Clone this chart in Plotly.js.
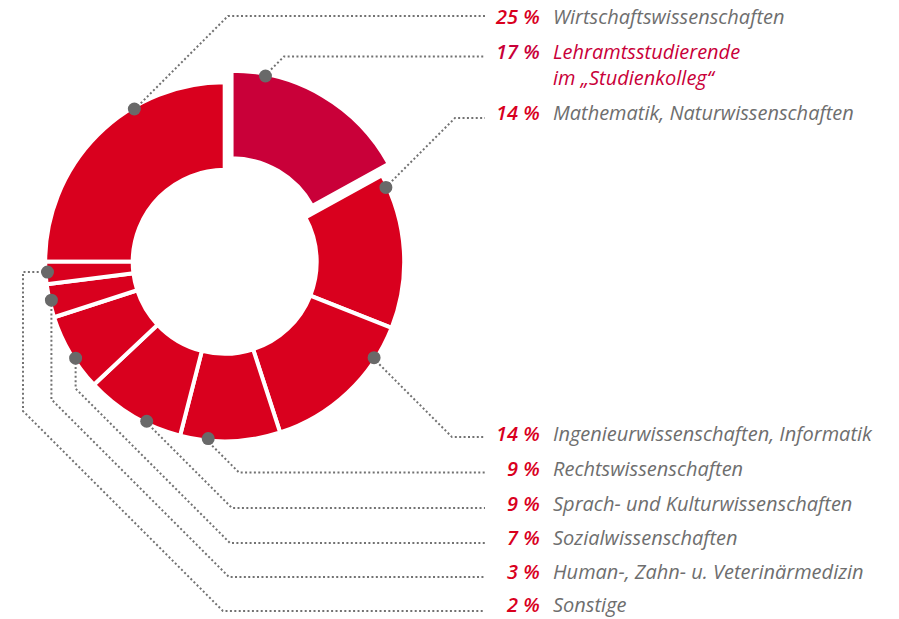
<!DOCTYPE html>
<html><head><meta charset="utf-8">
<script src="https://cdn.plot.ly/plotly-3.0.1.min.js"></script>
<style>html,body{margin:0;padding:0;background:#fff}#chart{width:899px;height:619px}</style>
</head><body><div id="chart"></div>
<script>
// ---- data (listing order, as in the label column) ----
const categories = [
  "Wirtschaftswissenschaften",
  "Lehramtsstudierende<br>im „Studienkolleg“",
  "Mathematik, Naturwissenschaften",
  "Ingenieurwissenschaften, Informatik",
  "Rechtswissenschaften",
  "Sprach- und Kulturwissenschaften",
  "Sozialwissenschaften",
  "Human-, Zahn- u. Veterinärmedizin",
  "Sonstige"
];
const shares = [25, 17, 14, 14, 9, 9, 7, 3, 2];
const highlighted = "Lehramtsstudierende<br>im „Studienkolleg“";

// ---- layout (pixels) ----
const W = 899, H = 619;
const CX = 224.7, CY = 261.8, R = 179.5, LINE_W = 4, HOLE = 0.5125, PULL = 0.075, ROT = -90;
const RED = "#D9001E", CRIMSON = "#C90039", GREY = "#6e6e6e", LEAD = "#727272", DOT = "#696969";
const anchorFrac = [0.66, 0.18, 0.08, 0.22, 0.72, 0.36, 0.41, 0.51, 0.54];
const rowTextY = [16.5, 51, 112, 433, 468, 503, 537.5, 571.5, 604];
const rowLineY = [16, 56.5, 118, 437, 472.5, 508, 543, 577, 611];
const elbowX = [228, 284, 455, 452, 239, 232, 230, 229, 223];
const legX = [null, null, null, null, null, null, null, null, 23];
const LINE_END = 485, PCT_X = 541, LBL_X = 552, LINE2_DY = 26;

const px = x => x / W, py = y => 1 - y / H;
const half = R * (1 + PULL);
const domain = {x: [px(CX - half), px(CX + half)], y: [py(CY + half), py(CY - half)]};

const total = shares.reduce((a, b) => a + b, 0);
const shapes = [], dots = [], annotations = [];
let cum = 0;
shares.forEach((v, i) => {
  const a0 = (ROT + cum / total * 360) * Math.PI / 180;
  const span = v / total * 2 * Math.PI;
  cum += v;
  const isHi = categories[i] === highlighted;
  const mid = a0 + span / 2;
  const ox = isHi ? PULL * R * Math.sin(mid) : 0;
  const oy = isHi ? -PULL * R * Math.cos(mid) : 0;
  const a = a0 + anchorFrac[i] * span;
  const rApp = R - LINE_W / 2;
  const dx = CX + ox + rApp * Math.sin(a), dy = CY + oy - rApp * Math.cos(a);
  // leader path
  const pts = [[dx, dy]];
  const lx = legX[i] == null ? dx : legX[i];
  if (legX[i] != null) pts.push([lx, dy]);
  const rowY = rowLineY[i];
  const run = elbowX[i] - lx, rise = Math.abs(rowY - dy), sgn = Math.sign(rowY - dy);
  if (rise > run) pts.push([lx, rowY - sgn * run]);
  else pts.push([elbowX[i] - rise, dy]);
  pts.push([elbowX[i], rowY]);
  pts.push([LINE_END, rowY]);
  const path = pts.map((p, k) => (k ? "L" : "M") + px(p[0]).toFixed(5) + "," + py(p[1]).toFixed(5)).join(" ");
  shapes.push({type: "path", xref: "paper", yref: "paper", path: path,
    line: {color: LEAD, width: 2, dash: "2px,2.4px"}, layer: "above"});
  dots.push({type: "circle", xref: "paper", yref: "paper", xsizemode: "pixel", ysizemode: "pixel",
    xanchor: px(dx), yanchor: py(dy), x0: -6.5, x1: 6.5, y0: -6.5, y1: 6.5,
    fillcolor: DOT, line: {width: 0}, layer: "above"});
  // text
  const tc = isHi ? CRIMSON : GREY;
  annotations.push({xref: "paper", yref: "paper", x: px(PCT_X), y: py(rowTextY[i]),
    xanchor: "right", yanchor: "middle", showarrow: false, borderpad: 0,
    text: v + " %", font: {family: "Open Sans", size: 20, weight: 600, style: "italic", color: isHi ? CRIMSON : RED}});
  categories[i].split("<br>").forEach((ln, k) => {
    annotations.push({xref: "paper", yref: "paper", x: px(LBL_X), y: py(rowTextY[i] + k * LINE2_DY),
      xanchor: "left", yanchor: "middle", showarrow: false, borderpad: 0,
      text: ln, font: {family: "Open Sans", size: 20, weight: 400, style: "italic", color: tc}});
  });
});

const trace = {
  type: "pie", labels: categories, values: shares, sort: false, direction: "clockwise",
  rotation: ROT, hole: HOLE, textinfo: "none", hoverinfo: "none",
  pull: categories.map(c => c === highlighted ? PULL : 0),
  marker: {colors: categories.map(c => c === highlighted ? CRIMSON : RED), line: {color: "#ffffff", width: LINE_W}},
  domain: domain, showlegend: false
};
Plotly.newPlot("chart", [trace], {
  width: W, height: H, margin: {l: 0, r: 0, t: 0, b: 0},
  paper_bgcolor: "#ffffff", plot_bgcolor: "#ffffff",
  shapes: shapes.concat(dots), annotations: annotations, showlegend: false
}, {staticPlot: true});
</script></body></html>
